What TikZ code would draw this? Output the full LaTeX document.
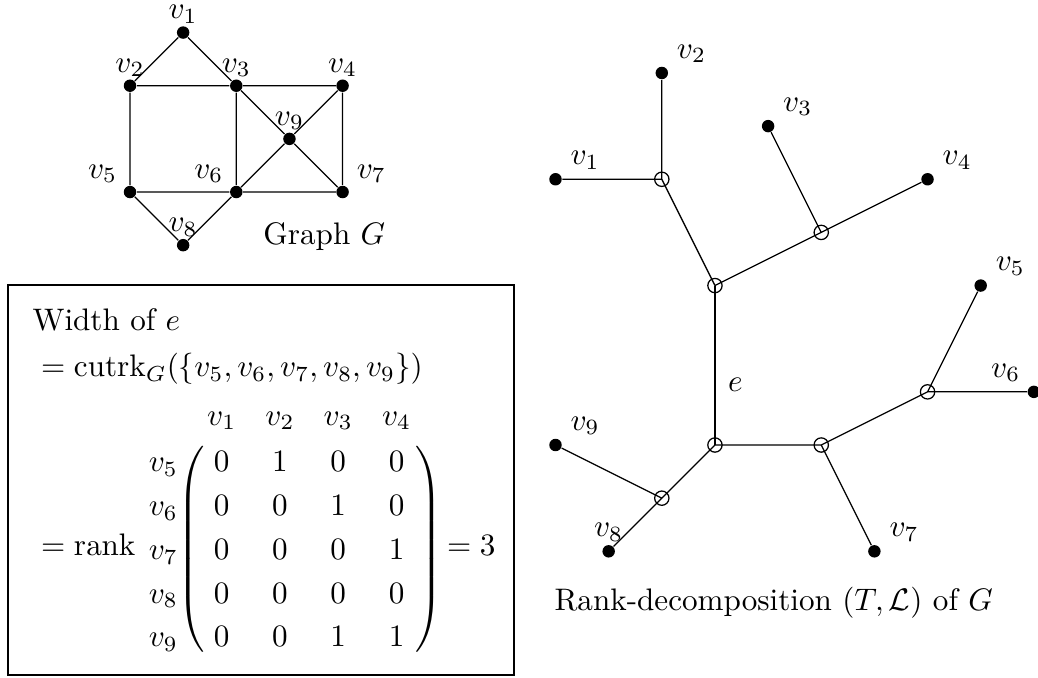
\documentclass[tikz,border=0pt]{standalone}
\usepackage{amssymb,amsmath}
\usetikzlibrary{positioning,matrix}
\tikzset{
  vtx/.style={circle, fill=black, inner sep=0pt, minimum size=4pt},
  ivtx/.style={circle, draw=black, inner sep=0pt, minimum size=4.6pt},
  lab/.style={inner sep=0pt},
  ent/.style={inner sep=0pt, minimum width=0.658cm, minimum height=0.494cm, text height=6.5pt, text depth=0pt},
  paren/.style={inner sep=0pt},
}
\begin{document}
\begin{tikzpicture}[x=0.6cm, y=0.6cm]
\useasboundingbox (0,0) rectangle (19.53,12.738);

% graph G
\begin{scope}[shift={(2.446,9.125)}]
\node[vtx] (g1) at (1,3) {};
\node[vtx] (g2) at (0,2) {};
\node[vtx] (g3) at (2,2) {};
\node[vtx] (g4) at (4,2) {};
\node[vtx] (g5) at (0,0) {};
\node[vtx] (g6) at (2,0) {};
\node[vtx] (g7) at (4,0) {};
\node[vtx] (g8) at (1,-1) {};
\node[vtx] (g9) at (3,1) {};
\draw (g1) -- (g2) (g1) -- (g3) (g2) -- (g3) (g3) -- (g4)
  (g2) -- (g5) (g3) -- (g6) (g4) -- (g7) (g5) -- (g6) (g6) -- (g7)
  (g3) -- (g9) (g9) -- (g7) (g4) -- (g9) (g9) -- (g6)
  (g5) -- (g8) (g8) -- (g6);
\node[lab, above=0.5pt of g1] (gl1) {$v_1$};
\node[lab, above=0.5pt of g2] (gl2) {$v_2$};
\node[lab, above=0.5pt of g3] (gl3) {$v_3$};
\node[lab, above=0.5pt of g4] (gl4) {$v_4$};
\node[lab, above left=1.2pt and 2.4pt of g5] (gl5) {$v_5$};
\node[lab, above left=1.2pt and 2.4pt of g6] (gl6) {$v_6$};
\node[lab, above right=1.2pt and 2.8pt of g7] (gl7) {$v_7$};
\node[lab, above=0.5pt of g8] (gl8) {$v_8$};
\node[lab, above=0.5pt of g9] (gl9) {$v_9$};
\node[anchor=base west, inner sep=0pt] (gname) at (2.5,-0.98) {Graph $G$};
\end{scope}

% rank-decomposition
\begin{scope}[shift={(13.452,4.365)}]
\node[ivtx] (ta) at (-1,5) {};
\node[ivtx] (tb) at (2,4) {};
\node[ivtx] (tc) at (0,3) {};
\node[ivtx] (td) at (0,0) {};
\node[ivtx] (tg) at (2,0) {};
\node[ivtx] (tf) at (4,1) {};
\node[ivtx] (th) at (-1,-1) {};
\node[vtx] (t1) at (-3,5) {};
\node[vtx] (t2) at (-1,7) {};
\node[vtx] (t3) at (1,6) {};
\node[vtx] (t4) at (4,5) {};
\node[vtx] (t5) at (5,3) {};
\node[vtx] (t6) at (6,1) {};
\node[vtx] (t7) at (3,-2) {};
\node[vtx] (t8) at (-2,-2) {};
\node[vtx] (t9) at (-3,0) {};
\draw (t1) -- (ta.center) (t2) -- (ta.center) (ta.center) -- (tc.center)
  (tc.center) -- (tb.center) (tb.center) -- (t3) (tb.center) -- (t4)
  (td.center) -- (tg.center) (tg.center) -- (tf.center) (tf.center) -- (t5)
  (tf.center) -- (t6) (tg.center) -- (t7)
  (td.center) -- (th.center) (th.center) -- (t9) (th.center) -- (t8);
\draw (td.center) -- node[pos=0.375, right, inner sep=4pt] (elab) {$e$} (tc.center);
\node[lab, above right=1.5pt and 3.1pt of t1] (tl1) {$v_1$};
\node[lab, above right=1.5pt and 3.1pt of t2] (tl2) {$v_2$};
\node[lab, above right=1.5pt and 3.1pt of t3] (tl3) {$v_3$};
\node[lab, above right=1.5pt and 3.1pt of t4] (tl4) {$v_4$};
\node[lab, above right=1.5pt and 3.1pt of t5] (tl5) {$v_5$};
\node[lab, above left=1.5pt and 2.6pt of t6] (tl6) {$v_6$};
\node[lab, above right=1.5pt and 3.1pt of t7] (tl7) {$v_7$};
\node[lab, above=0.7pt of t8] (tl8) {$v_8$};
\node[lab, above right=1.5pt and 3.1pt of t9] (tl9) {$v_9$};
\node[anchor=base west, inner sep=0pt] (tname) at (-3.03,-3.12) {Rank-decomposition $(T,\mathcal{L})$ of $G$};
\end{scope}

% width of e
\draw (0.15,0.038) rectangle (9.671,7.375);
\node[anchor=base west, inner sep=0pt] (wid) at (0.6,6.515) {Width of $e$};
\node[anchor=base west, inner sep=0pt] (cut) at (0.6,5.65) {${}=\mathrm{cutrk}_G(\{v_5,v_6,v_7,v_8,v_9\})$};
\node[anchor=base west, inner sep=0pt] (rk) at (0.6,2.277) {${}=\mathrm{rank}$};
\matrix (A) [matrix of math nodes, nodes={ent}, row sep=0pt, column sep=0pt] at (5.268,2.843) {
      & v_1 & v_2 & v_3 & v_4 \\[1pt]
  v_5 & 0 & 1 & 0 & 0 \\
  v_6 & 0 & 0 & 1 & 0 \\
  v_7 & 0 & 0 & 0 & 1 \\
  v_8 & 0 & 0 & 0 & 0 \\
  v_9 & 0 & 0 & 1 & 1 \\
};
\node[paren] (lp) at ([xshift=-0.4pt]A-4-2.west) {\nulldelimiterspace=0pt$\left(\vcenter{\hbox{\rule{0pt}{66pt}}}\right.$};
\node[paren] (rp) at ([xshift=0.9pt]A-4-5.east) {\nulldelimiterspace=0pt$\left.\vcenter{\hbox{\rule{0pt}{66pt}}}\right)$};
\node[anchor=base west, inner sep=0pt] (eqthree) at (8.239,2.277) {${}=3$};
\end{tikzpicture}
\end{document}
